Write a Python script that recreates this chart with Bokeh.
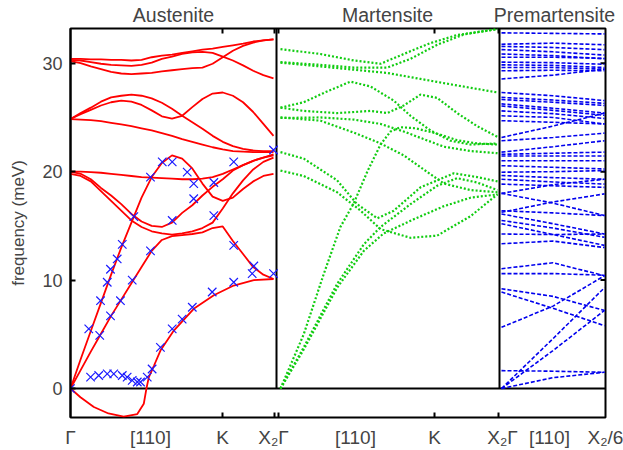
from bokeh.plotting import figure
from bokeh.models import Range1d, FixedTicker, LinearAxis
from bokeh.embed import file_html
from bokeh.resources import INLINE

# ---------------- data ----------------
# Austenite: reduced wave vector q (Gamma=0 ... X2=1), frequencies in meV
aus_q = [0, 0.05, 0.1, 0.15, 0.2, 0.25, 0.3, 0.35, 0.4, 0.45, 0.5,
         0.55, 0.6, 0.65, 0.7, 0.75, 0.8, 0.85, 0.9, 0.95, 1.0]
aus_A = [30.4, 30.4, 30.35, 30.35, 30.3, 30.3, 30.25, 30.3, 30.55, 30.7, 30.8, 30.95, 31.1, 31.25, 31.35, 31.5, 31.65, 31.8, 32.0, 32.1, 32.2]
aus_B = [30.3, 30.25, 30.1, 29.95, 29.85, 29.8, 29.75, 29.85, 30.05, 30.4, 30.6, 30.85, 31.0, 31.05, 30.95, 30.6, 30.25, 29.8, 29.3, 28.9, 28.6]
aus_C = [30.2, 30.0, 29.7, 29.45, 29.2, 29.05, 29.0, 29.05, 29.1, 29.25, 29.35, 29.45, 29.55, 29.6, 29.95, 30.55, 31.15, 31.6, 31.9, 32.1, 32.2]
aus_D = [24.85, 25.4, 25.9, 26.45, 26.85, 27.0, 27.1, 27.0, 26.75, 26.35, 25.8, 25.15, 24.55, 23.95, 23.3, 22.75, 22.35, 22.1, 21.95, 21.9, 21.9]
aus_E = [24.85, 25.3, 25.7, 26.1, 26.4, 26.55, 26.45, 26.15, 25.65, 25.1, 24.9, 25.15, 25.95, 26.7, 27.2, 27.3, 27.0, 26.4, 25.5, 24.4, 23.3]
aus_F = [24.85, 24.8, 24.75, 24.65, 24.5, 24.35, 24.2, 24.0, 23.8, 23.55, 23.3, 23.0, 22.75, 22.5, 22.25, 22.05, 21.9, 21.85, 21.8, 21.8, 21.8]
aus_G = [20.0, 20.0, 19.95, 19.9, 19.8, 19.7, 19.6, 19.5, 19.45, 19.4, 19.35, 19.3, 19.3, 19.35, 19.5, 19.8, 20.2, 20.6, 21.0, 21.3, 21.5]
aus_O1 = [20.0, 19.8, 19.3, 18.5, 17.8, 17.0, 16.1, 15.4, 15.0, 14.9, 15.3, 16.2, 16.9, 17.8, 18.6, 19.3, 20.1, 20.6, 21.0, 21.3, 21.6]
aus_O2 = [19.8, 19.6, 19.1, 18.2, 17.3, 16.4, 15.5, 14.9, 14.5, 14.3, 14.2, 14.3, 14.5, 14.8, 15.3, 16.6, 18.0, 19.2, 20.2, 20.9, 21.3]
aus_LA = [0, 2.7, 5.3, 7.9, 10.5, 13.0, 15.3, 17.6, 19.5, 20.8, 21.5, 21.2, 20.3, 18.9, 17.7, 17.3, 17.6, 18.4, 19.1, 19.6, 19.8]
aus_TA1 = [0, 1.7, 3.4, 5.05, 6.7, 8.2, 9.7, 11.2, 12.7, 13.7, 14.05, 14.15, 14.25, 14.4, 14.8, 14.95, 13.6, 12.4, 11.2, 10.5, 10.1]
# soft TA2 branch (imaginary part drawn negative)
aus_TA2_q = [0, 0.049, 0.115, 0.187, 0.262, 0.329, 0.361, 0.374, 0.386, 0.411, 0.443, 0.509, 0.607, 0.706, 0.804, 0.903, 1.0]
aus_TA2 = [0, -0.8, -1.7, -2.3, -2.6, -2.35, -1.4, 0, 1.05, 2.1, 3.5, 5.35, 7.35, 8.6, 9.5, 10.0, 10.1]

# measured points (austenite)
exp_q = [0, 0.099, 0.139, 0.181, 0.213, 0.255, 0.279, 0.304, 0.329, 0.345, 0.378,
         0.402, 0.443, 0.501, 0.55, 0.6, 0.698, 0.804, 0.895, 1.0,
         0.144, 0.197, 0.246, 0.304, 0.394, 0.501, 0.706, 0.804, 0.903,
         0.09, 0.148, 0.181, 0.197, 0.23, 0.255, 0.312, 0.394, 0.452, 0.501, 0.575,
         0.607, 0.607, 0.706, 0.804, 1.0]
exp_meV = [0, 1.05, 1.2, 1.35, 1.35, 1.2, 1.05, 0.75, 0.6, 0.6, 1.05,
           1.8, 3.8, 5.5, 6.4, 7.5, 8.9, 9.8, 10.6, 10.6,
           4.9, 6.7, 8.1, 10.0, 12.7, 15.5, 15.95, 13.2, 11.3,
           5.5, 8.1, 9.8, 11.0, 11.95, 13.3, 15.85, 19.5, 20.9, 20.9, 19.95,
           18.9, 17.5, 19.0, 20.9, 22.0]

# Martensite branches: (q list, meV list)
mar_M1_q = [0, 0.184, 0.338, 0.461, 0.568, 0.691, 0.814, 1.0]
mar_M1 = [31.3, 30.85, 30.25, 29.95, 30.85, 31.85, 32.6, 33.15]
mar_M2_q = [0, 0.184, 0.338, 0.492, 0.599, 0.722, 0.845, 1.0]
mar_M2 = [30.1, 29.85, 29.6, 29.6, 30.4, 31.7, 32.65, 33.15]
mar_M3_q = [0, 0.184, 0.338, 0.492, 0.645, 0.799, 1.0]
mar_M3 = [30.05, 29.7, 29.4, 29.1, 28.55, 28.0, 27.3]
mar_Mp_q = [0, 0.107, 0.215, 0.323, 0.415, 0.522, 0.599, 0.691, 0.783, 0.876, 1.0]
mar_Mp = [25.9, 26.4, 27.4, 28.3, 27.85, 26.55, 25.15, 23.8, 22.85, 22.5, 22.6]
mar_Mf_q = [0, 0.107, 0.261, 0.415, 0.492, 0.568, 0.645, 0.722, 0.814, 0.906, 1.0]
mar_Mf = [25.9, 25.6, 25.4, 25.6, 25.4, 26.1, 27.1, 26.8, 25.4, 24.2, 23.2]
mar_Md_q = [0, 0.184, 0.338, 0.461, 0.568, 0.66, 0.753, 0.876, 1.0]
mar_Md = [25.0, 24.7, 23.6, 22.6, 21.5, 20.2, 18.9, 18.3, 18.1]
mar_Me_q = [0, 0.184, 0.338, 0.461, 0.568, 0.66, 0.753, 0.876, 1.0]
mar_Me = [24.95, 25.0, 24.8, 24.4, 23.7, 23.0, 22.3, 21.9, 21.7]
mar_Ma_q = [0, 0.107, 0.261, 0.353, 0.446, 0.522, 0.645, 0.799, 0.906, 1.0]
mar_Ma = [21.8, 21.2, 19.2, 17.0, 15.7, 16.4, 18.55, 19.85, 19.5, 19.1]
mar_Mb_q = [0, 0.107, 0.261, 0.369, 0.461, 0.599, 0.722, 0.876, 1.0]
mar_Mb = [20.1, 19.6, 18.1, 16.4, 14.7, 13.9, 14.1, 15.9, 17.9]
mar_LA_q = [0, 0.107, 0.2, 0.276, 0.338, 0.4, 0.461, 0.507, 0.553, 0.622, 0.722, 0.814, 0.906, 1.0]
mar_LA = [0, 5.0, 10.6, 14.9, 17.1, 20.0, 22.5, 23.7, 24.1, 24.0, 23.5, 22.9, 22.6, 22.5]
mar_TAa_q = [0, 0.107, 0.261, 0.384, 0.461, 0.599, 0.722, 0.814, 0.906, 1.0]
mar_TAa = [0, 3.8, 9.65, 13.3, 14.9, 17.0, 18.7, 19.4, 19.0, 18.3]
mar_TAb_q = [0, 0.107, 0.261, 0.384, 0.475, 0.613, 0.751, 0.876, 1.0]
mar_TAb = [0, 3.6, 9.3, 12.7, 14.3, 15.6, 16.8, 17.6, 17.9]

# Premartensite: each branch sampled at Gamma, half-way, X2/6
pre_q = [0, 0.5, 1.0]
pre_start = [32.8, 31.75, 31.55, 31.25, 30.85, 30.55, 30.1, 29.85, 29.6, 29.3, 28.55,
             27.3, 26.85, 26.65, 26.25, 26.05, 25.6, 25.15, 24.7, 23.15, 22.85, 21.8, 21.6,
             21.45, 21.0, 20.55, 19.95, 19.65, 19.3, 18.85, 18.0, 18.0, 16.4, 16.25, 16.1,
             15.5, 15.2, 14.25, 13.35, 11.05, 10.6, 9.2, 8.9, 5.65, 1.65, 0.0, 0.0, 0.0]
pre_mid = [32.75, 31.85, 31.45, 31.05, 30.7, 30.55, 30.05, 29.8, 29.6, 29.35, 28.9,
           27.0, 26.6, 26.4, 25.85, 25.65, 25.35, 25.0, 24.55, 24.2, 23.15, 22.3, 21.7,
           21.45, 21.0, 20.4, 20.0, 19.45, 19.05, 18.7, 18.8, 17.1, 16.2, 17.2, 15.2,
           14.8, 14.2, 14.2, 13.6, 11.6, 10.6, 8.5, 7.4, 7.6, 1.6, 3.5, 4.6, 1.0]
pre_end = [32.7, 31.7, 31.25, 30.75, 30.4, 30.45, 29.9, 29.6, 29.45, 29.3, 29.45,
           26.55, 26.3, 26.1, 25.4, 25.2, 24.9, 24.4, 24.4, 25.4, 23.55, 22.85, 21.8,
           21.45, 21.0, 20.25, 20.1, 19.3, 18.85, 18.55, 19.3, 15.95, 15.95, 17.95, 14.25,
           13.95, 13.2, 14.25, 13.0, 10.4, 10.45, 7.2, 5.8, 10.4, 1.5, 7.2, 9.3, 1.5]

y_ticks = [0, 10, 20, 30]
path_labels = ["\u0393", "[110]", "K", "X\u2082\u0393", "[110]", "K", "X\u2082\u0393", "[110]", "X\u2082/6"]
panel_titles = ["Austenite", "Martensite", "Premartensite"]

# ---------------- layout (x in frame pixels from left edge) ----------------
X_MAX = 535
AUS_X0, AUS_LEN = 0, 203
MAR_X0, MAR_LEN = 210, 217
PRE_X0, PRE_LEN = 431, 103
SEP_X = [206, 429]
Y_MIN, Y_MAX = -2.67, 33.2
FRAME_H = 389
TICK = 5 * (Y_MAX - Y_MIN) / FRAME_H
label_pos = [0, 80, 152, 203, 285, 364, 432, 479, 535]
title_pos = [103, 317, 484]
path_ticks = [152, 204, 208, 364, 428]
FONT = "Liberation Sans"

p = figure(width=623, height=450, x_range=Range1d(0, X_MAX), y_range=Range1d(Y_MIN, Y_MAX),
           output_backend="svg", toolbar_location=None,
           min_border_left=70, min_border_right=18, min_border_top=28, min_border_bottom=33)
p.xgrid.visible = False
p.ygrid.visible = False
p.outline_line_color = "black"
p.outline_line_width = 2
p.background_fill_color = "white"
p.border_fill_color = "white"

# y axis
yax = p.yaxis[0]
yax.ticker = FixedTicker(ticks=y_ticks)
yax.major_tick_in = 5
yax.major_tick_out = 0
yax.major_tick_line_width = 2
yax.minor_tick_line_color = None
yax.axis_line_width = 2
yax.major_label_text_font = FONT
yax.major_label_text_font_size = "18px"
yax.major_label_standoff = 8
yax.axis_label = "frequency (meV)"
yax.axis_label_text_font = FONT
yax.axis_label_text_font_size = "17px"
yax.axis_label_text_font_style = "normal"
yax.axis_label_standoff = 11

# bottom path labels
xax = p.xaxis[0]
xax.ticker = FixedTicker(ticks=label_pos)
xax.major_label_overrides = {k: v for k, v in zip(label_pos, path_labels)}
xax.major_tick_in = 0
xax.major_tick_out = 0
xax.minor_tick_line_color = None
xax.axis_line_color = None
xax.major_label_text_font = FONT
xax.major_label_text_font_size = "19px"
xax.major_label_standoff = 9

# panel titles on top
top = LinearAxis(ticker=FixedTicker(ticks=title_pos),
                 major_label_overrides={k: v for k, v in zip(title_pos, panel_titles)})
top.major_tick_in = 0
top.major_tick_out = 0
top.minor_tick_line_color = None
top.axis_line_color = None
top.major_label_text_font = FONT
top.major_label_text_font_size = "19.5px"
top.major_label_standoff = 3
p.add_layout(top, "above")

# frame decorations
p.segment(x0=[0], y0=[0], x1=[X_MAX], y1=[0], line_color="black", line_width=2)
p.segment(x0=SEP_X, y0=[0] * 2, x1=SEP_X, y1=[Y_MAX] * 2, line_color="black", line_width=2)
p.segment(x0=path_ticks, y0=[Y_MIN] * len(path_ticks), x1=path_ticks,
          y1=[Y_MIN + TICK] * len(path_ticks), line_color="black", line_width=2)
p.segment(x0=path_ticks, y0=[Y_MAX] * len(path_ticks), x1=path_ticks,
          y1=[Y_MAX - TICK] * len(path_ticks), line_color="black", line_width=2)
p.segment(x0=[X_MAX - 5] * 3, y0=y_ticks[1:], x1=[X_MAX] * 3, y1=y_ticks[1:],
          line_color="black", line_width=2)

# austenite
aus_branches = [aus_A, aus_B, aus_C, aus_D, aus_E, aus_F, aus_G, aus_O1, aus_O2, aus_LA, aus_TA1]
aus_xs = [[AUS_X0 + AUS_LEN * q for q in aus_q] for _ in aus_branches]
aus_xs.append([AUS_X0 + AUS_LEN * q for q in aus_TA2_q])
aus_ys = aus_branches + [aus_TA2]
p.multi_line(aus_xs, aus_ys, line_color="#ff0000", line_width=1.8)

# martensite
mar = [(mar_M1_q, mar_M1), (mar_M2_q, mar_M2), (mar_M3_q, mar_M3), (mar_Mp_q, mar_Mp),
       (mar_Mf_q, mar_Mf), (mar_Md_q, mar_Md), (mar_Me_q, mar_Me), (mar_Ma_q, mar_Ma),
       (mar_Mb_q, mar_Mb), (mar_LA_q, mar_LA), (mar_TAa_q, mar_TAa), (mar_TAb_q, mar_TAb)]
p.multi_line([[MAR_X0 + MAR_LEN * q for q in qs] for qs, _ in mar], [ys for _, ys in mar],
             line_color="#11cc11", line_width=2.2, line_dash="2 2")

# premartensite
pre_xs = [[PRE_X0 + PRE_LEN * q for q in pre_q] for _ in pre_start]
pre_ys = [[a, b, c] for a, b, c in zip(pre_start, pre_mid, pre_end)]
p.multi_line(pre_xs, pre_ys, line_color="#0000ee", line_width=1.6, line_dash="4 2")

# experiment
p.scatter([AUS_X0 + AUS_LEN * q for q in exp_q], exp_meV, marker="x", size=12,
          line_color="#1a1aff", line_width=1.2)

open("out.html", "w").write(file_html(p, INLINE))
